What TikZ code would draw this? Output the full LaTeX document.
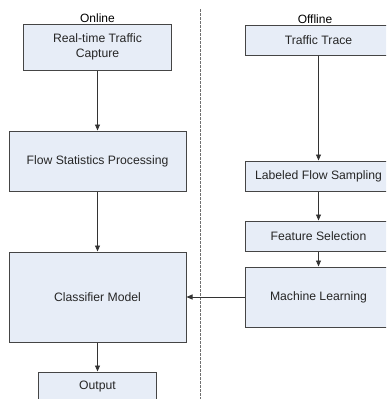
\documentclass[tikz,border=0pt]{standalone}
\usepackage{fontspec}
\setmainfont{Liberation Sans}
\usetikzlibrary{arrows.meta}
\definecolor{boxfill}{HTML}{E7EDF7}
\definecolor{boxline}{HTML}{454545}
\definecolor{dashline}{HTML}{707070}
\tikzset{
  stage/.style={draw=boxline, fill=boxfill, line width=1pt, inner sep=0pt, align=center,
    font=\fontsize{12.2}{14.5}\selectfont, text=black!85},
  flow/.style={draw=black!80, line width=0.9pt, -{Triangle[length=6pt,width=5pt]}},
  hdr/.style={font=\fontsize{12}{14}\selectfont, inner sep=1pt, anchor=south}
}
\begin{document}
\begin{tikzpicture}[x=1pt,y=-1pt]
\useasboundingbox (0,0) rectangle (386,399);
\clip (0,0) rectangle (386,399);
% left column
\node[stage, minimum width=148pt, minimum height=46pt] (rt) at (97.5,47) {Real-time Traffic\\Capture};
\node[stage, minimum width=177pt, minimum height=60pt] (fs) at (97.5,161) {Flow Statistics Processing};
\node[stage, minimum width=177pt, minimum height=90pt] (cm) at (97.5,297) {Classifier Model};
\node[stage, minimum width=118pt, minimum height=30pt] (out) at (97.5,387) {Output};
% right column
\node[stage, minimum width=147pt, minimum height=30pt] (tt) at (318.5,40) {Traffic Trace};
\node[stage, minimum width=147pt, minimum height=30pt] (lfs) at (318.5,176) {Labeled Flow Sampling};
\node[stage, minimum width=147pt, minimum height=30pt] (fsel) at (318.5,236) {Feature Selection};
\node[stage, minimum width=147pt, minimum height=60pt] (ml) at (318.5,297) {Machine Learning};
% headers
\node[hdr] (on) at (97.5,24) {Online};
\node[hdr] (off) at (315,25) {Offline};
% divider
\coordinate (dtop) at (200.7,9);
\coordinate (dbot) at (200.7,399);
\draw[dashline, line width=0.9pt, dash pattern=on 2.5pt off 1.5pt] (dtop) -- (dbot);
% connectors
\draw[flow] (rt.south) -- (fs.north);
\draw[flow] (fs.south) -- (cm.north);
\draw[flow] (cm.south) -- (out.north);
\draw[flow] (tt.south) -- (lfs.north);
\draw[flow] (lfs.south) -- (fsel.north);
\draw[flow] (fsel.south) -- (ml.north);
\draw[flow] (ml.west) -- (cm.east);
\end{tikzpicture}
\end{document}
